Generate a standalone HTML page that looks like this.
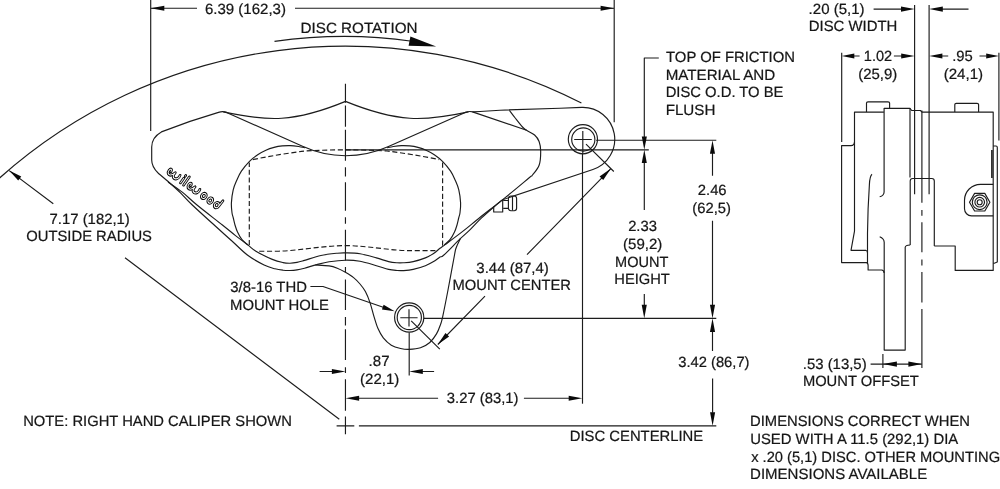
<!DOCTYPE html>
<html><head><meta charset="utf-8"><title>Caliper drawing</title>
<style>
html,body{margin:0;padding:0;background:#fff;}
body{width:1000px;height:489px;overflow:hidden;}
svg{display:block;filter:grayscale(1);}
text{font-family:"Liberation Sans",sans-serif;font-size:14.8px;fill:#161616;stroke:#161616;stroke-width:0.22;text-rendering:geometricPrecision;}
.ln{fill:none;stroke:#1c1c1c;stroke-width:1.15;stroke-linecap:butt;stroke-linejoin:round;}
.dash{fill:none;stroke:#1c1c1c;stroke-width:1.15;stroke-dasharray:5.1 2.7;}
.cl{fill:none;stroke:#1c1c1c;stroke-width:1.15;}
.ar polygon{fill:#0a0a0a;stroke:none;}
</style></head><body>
<svg width="1000" height="489" viewBox="0 0 1000 489">
<rect width="1000" height="489" fill="#fff"/>

<!-- dimension / extension lines -->
<g class="ln">
<path d="M150.7,0V131 M614.2,0V122.3 M150.7,8.25H197 M295,8.25H614.2"/>
<path d="M274.5,41.4 Q345,31.3 412,41.3"/>
<path d="M-2,179.4 A519.07,519.07 0 0 1 581.4,103"/>
<path d="M9.2,170.6L53.3,203.8 M125,257.8L339.3,419.3"/>
<path d="M658.8,58H644.3V137 M644.3,162.5V210 M644.3,294V305"/>
<path d="M596.1,140.2H716.3 M345.5,149.9H648.8 M423.8,318.3H716.3"/>
<path d="M582.5,154V403.7"/>
<path d="M712.5,153V175.8 M712.5,220.8V305 M712.5,331.5V351 M712.6,378.4V412.7"/>
<path d="M409.2,332.5V375.6"/>
<path d="M319.6,371.5H332 M422,371.5H434.1"/>
<path d="M358,398.2H438.1 M523.9,398.2H569"/>
<path d="M358.9,425.8H716.3 M336.6,425.8H354.3 M345.45,416.6V434.3"/>
<path d="M586,144.1L613.8,171.5 M411.2,320.8L439.8,349.2 M610.9,168.6L527,254.7 M485,296.2L437.8,344.5"/>
<path d="M310.4,286.5H323L389,309.3"/>
<path d="M914.6,5V112 M929.1,5V112 M873.6,9.1H902 M942,9.1H968.5"/>
<path d="M841.7,52.8V142.1 M998.9,52.8V140.5 M853.5,56H859.6 M893.9,56H902 M942,56H948.2 M979.5,56H986.5"/>
<path d="M882.9,354V368 M870.6,364.1H921.8"/>
</g>

<!-- centerlines -->
<g class="cl">
<path d="M345.45,83.8V102.8 M345.45,105.4V126.8 M345.45,129.8V160.7 M345.45,167.2V176.4 M345.45,182.3V210.7 M345.45,217.3V223.8 M345.45,229.7V260.4 M345.45,267V272.3 M345.45,279.5V309.9 M345.45,317V325.6 M345.45,329.3V360 M345.45,367.2V373.1 M345.45,379.3V410.7"/>
<path d="M921.9,110.5V202.7 M921.9,209.9V215.8 M921.9,222.3V252.3 M921.9,259.5V265.4 M921.9,271.9V302.6 M921.9,309.1V368"/>
</g>

<!-- front view: caliper -->
<g class="ln">
<path d="M158.1,173 C154,169 151.7,165 151.7,160 V147 C151.7,141 155,135.5 161.4,131.9 L190,121.4 L218.5,112.4 Q222.7,111 226.5,112.4"/>
<path d="M223.3,111.9 C267.6,121.5 294.1,122.7 345.5,101.4 C397.7,122.7 424.2,121.5 468.5,111.9"/>
<path d="M226,112.2 L302.5,146.3 C318,153.4 332,155.7 345.5,155.7 C359,155.7 373,153.4 388.5,146.5 L465.8,112.2"/>
<path d="M465.5,112.3 Q469.1,110.9 473.2,111.9 L480,111.5 L500,110.2 L560,108.2 L581.8,107.35 A31.9,31.9 0 0 1 592.9,169.5 L502.7,199.7"/>
<path d="M472.5,111.9 L526.6,130.3"/>
<path d="M168.00,182.00 C170.43,183.73 177.77,188.57 182.60,192.40 C187.43,196.23 190.37,199.57 197.00,205.00 C203.63,210.43 215.98,219.90 222.40,225.00 C228.82,230.10 231.28,232.30 235.50,235.60 C239.72,238.90 244.30,242.20 247.70,244.80 C251.10,247.40 251.80,248.77 255.90,251.20 C260.00,253.63 267.78,257.50 272.30,259.40 C276.82,261.30 280.05,261.97 283.00,262.60 C285.95,263.23 287.67,263.23 290.00,263.20 C292.33,263.17 294.58,262.87 297.00,262.40 C299.42,261.93 300.52,261.55 304.50,260.40 C308.48,259.25 315.43,256.70 320.90,255.50 C326.37,254.30 333.22,253.63 337.30,253.20 C341.38,252.77 341.62,252.80 345.40,252.90 C349.18,253.00 354.83,252.97 360.00,253.80 C365.17,254.63 371.63,256.60 376.40,257.90 C381.17,259.20 385.17,260.78 388.60,261.60 C392.03,262.42 394.60,262.60 397.00,262.80 C399.40,263.00 400.30,263.00 403.00,262.80 C405.70,262.60 409.47,262.42 413.20,261.60 C416.93,260.78 422.00,259.27 425.40,257.90 C428.80,256.53 431.17,255.00 433.60,253.40 C436.03,251.80 438.02,249.80 440.00,248.30 C441.98,246.80 441.72,247.22 445.50,244.40 C449.28,241.58 457.12,235.77 462.70,231.40 C468.28,227.03 471.92,223.83 479.00,218.20 C486.08,212.57 496.88,204.30 505.20,197.60 C513.52,190.90 524.35,181.77 528.90,178.00 C533.45,174.23 530.80,177.12 532.50,175.00 C534.20,172.88 537.73,169.23 539.10,165.30 C540.47,161.37 540.70,155.37 540.70,151.40 C540.70,147.43 540.12,144.23 539.10,141.50 C538.08,138.77 536.68,136.87 534.60,135.00 C532.52,133.13 528.62,131.63 526.60,130.30 C524.58,128.97 524.40,129.05 522.50,127.00 C520.60,124.95 517.38,120.77 515.20,118.00 C513.02,115.23 510.37,111.67 509.40,110.40"/>
<path d="M158.10,173.00 C160.00,174.63 165.68,179.40 169.50,182.80 C173.32,186.20 177.20,189.70 181.00,193.40 C184.80,197.10 186.63,199.60 192.30,205.00 C197.97,210.40 208.48,219.88 215.00,225.80 C221.52,231.72 225.95,235.58 231.40,240.50 C236.85,245.42 242.25,251.22 247.70,255.30 C253.15,259.38 259.55,262.75 264.10,265.00 C268.65,267.25 271.85,267.93 275.00,268.80 C278.15,269.67 280.50,269.92 283.00,270.20 C285.50,270.48 287.67,270.55 290.00,270.50 C292.33,270.45 294.58,270.28 297.00,269.90 C299.42,269.52 301.20,269.08 304.50,268.20 C307.80,267.32 312.70,265.67 316.80,264.60 C320.90,263.53 324.33,262.53 329.10,261.80 C333.87,261.07 340.25,260.28 345.40,260.20 C350.55,260.12 354.83,260.38 360.00,261.30 C365.17,262.22 371.63,264.35 376.40,265.70 C381.17,267.05 385.17,268.60 388.60,269.40 C392.03,270.20 394.60,270.30 397.00,270.50 C399.40,270.70 400.30,270.78 403.00,270.60 C405.70,270.42 409.47,270.22 413.20,269.40 C416.93,268.58 422.00,267.00 425.40,265.70 C428.80,264.40 431.17,263.03 433.60,261.60 C436.03,260.17 438.28,258.20 440.00,257.10 C441.72,256.00 440.52,258.07 443.90,255.00 C447.28,251.93 455.80,243.05 460.30,238.70 C464.80,234.35 467.40,232.32 470.90,228.90 C474.40,225.48 477.28,222.02 481.30,218.20 C485.32,214.38 491.43,209.08 495.00,206.00 C498.57,202.92 501.42,200.75 502.70,199.70"/>
<path d="M247.70,245.00 C246.75,244.12 243.70,241.87 242.00,239.70 C240.30,237.53 238.67,234.45 237.50,232.00 C236.33,229.55 235.70,227.33 235.00,225.00 C234.30,222.67 233.80,220.05 233.30,218.00 C232.80,215.95 232.32,215.22 232.00,212.70 C231.68,210.18 231.20,206.72 231.40,202.90 C231.60,199.08 232.28,193.62 233.20,189.80 C234.12,185.98 235.53,183.12 236.90,180.00 C238.27,176.88 239.30,174.22 241.40,171.10 C243.50,167.98 246.78,164.03 249.50,161.30 C252.22,158.57 254.97,156.55 257.70,154.70 C260.43,152.85 263.17,151.42 265.90,150.20 C268.63,148.98 271.37,148.12 274.10,147.40 C276.83,146.68 279.58,146.20 282.30,145.90 C285.02,145.60 287.68,145.50 290.40,145.60 C293.12,145.70 296.17,146.13 298.60,146.50 C301.03,146.87 303.93,147.58 305.00,147.80"/>
<path d="M444.30,245.00 C445.25,244.12 448.30,241.87 450.00,239.70 C451.70,237.53 453.33,234.45 454.50,232.00 C455.67,229.55 456.30,227.33 457.00,225.00 C457.70,222.67 458.20,220.05 458.70,218.00 C459.20,215.95 459.68,215.22 460.00,212.70 C460.32,210.18 460.80,206.72 460.60,202.90 C460.40,199.08 459.72,193.62 458.80,189.80 C457.88,185.98 456.47,183.12 455.10,180.00 C453.73,176.88 452.70,174.22 450.60,171.10 C448.50,167.98 445.22,164.03 442.50,161.30 C439.78,158.57 437.03,156.55 434.30,154.70 C431.57,152.85 428.83,151.42 426.10,150.20 C423.37,148.98 420.63,148.12 417.90,147.40 C415.17,146.68 412.42,146.20 409.70,145.90 C406.98,145.60 404.32,145.50 401.60,145.60 C398.88,145.70 395.83,146.13 393.40,146.50 C390.97,146.87 388.07,147.58 387.00,147.80"/>
<path d="M315.20,265.00 C317.52,265.15 325.42,265.37 329.10,265.90 C332.78,266.43 334.58,267.13 337.30,268.20 C340.02,269.27 342.68,270.73 345.40,272.30 C348.12,273.87 351.17,275.65 353.60,277.60 C356.03,279.55 358.03,281.68 360.00,284.00 C361.97,286.32 363.73,288.40 365.40,291.50 C367.07,294.60 368.57,298.42 370.00,302.60 C371.43,306.78 372.67,312.27 374.00,316.60 C375.33,320.93 376.45,325.05 378.00,328.60 C379.55,332.15 381.08,335.13 383.30,337.90 C385.52,340.67 388.42,343.43 391.30,345.20 C394.18,346.97 397.62,347.80 400.60,348.50 C403.58,349.20 405.88,349.52 409.20,349.40 C412.52,349.28 417.07,348.95 420.50,347.80 C423.93,346.65 427.13,344.82 429.80,342.50 C432.47,340.18 434.72,336.88 436.50,333.90 C438.28,330.92 439.47,327.48 440.50,324.60 C441.53,321.72 441.45,322.37 442.70,316.60 C443.95,310.83 446.03,300.27 448.00,290.00 C449.97,279.73 453.13,262.05 454.50,255.00 C455.87,247.95 455.23,250.42 456.20,247.70 C457.17,244.98 459.62,240.20 460.30,238.70"/>
<circle cx="582.9" cy="139.2" r="14.6"/><circle cx="583.3" cy="139.5" r="11.6"/>
<path d="M574.2,139.5H591.8 M582.8,131V154"/>
<circle cx="409.2" cy="317.5" r="14.6"/><circle cx="409.3" cy="317.5" r="12.1"/>
<path d="M400.3,317.7H417.6 M409,309.3V326.6"/>
<!-- bleeder -->
<path d="M493.7,206.5V212H502.7V200"/>
<path d="M503.2,200.5H508.4 M503.2,208.3H508.4"/>
<rect x="508.4" y="196" width="8.2" height="14.7" rx="2.4"/>
<path d="M512.5,196.2V210.5"/>
</g>
<g class="dash">
<path d="M249.3,245V162.5"/>
<path d="M442.6,245.7V162.5"/>
<path d="M252.8,159.6 Q280,154 305,151 Q325,149.9 345.5,149.8 Q366,149.9 387,151 Q412,154 439.2,159.6"/>
<path d="M259.2,251.2 H278.8 C300,250.5 322,245.8 345.4,245.6 C369,245.8 390,250.6 409,250.6 H437"/>
</g>

<g transform="translate(166.4,171.8) rotate(35.4) translate(0,0.7) scale(1,1.22) translate(0,-0.7)" fill="none" stroke-linecap="round" stroke-linejoin="round">
<path d="M3.50,-2.3 C3.40,-4.3 1.40,-4.3 1.30,-2 C1.20,0.3 3.40,1.2 5.20,0.4 C6.60,-0.3 7.40,-2 7.80,-3.3 C7.30,-1 8.20,0.9 10.20,0.8 C12.60,0.7 14.20,-1.6 13.20,-3.9 M17.9,0.7 L17.9,-3.8 M17.9,-6 L17.9,-6.4 M21.7,0.7 L21.7,-7.2 M27.80,-2.3 C27.70,-4.3 25.70,-4.3 25.60,-2 C25.50,0.3 27.70,1.2 29.50,0.4 C30.90,-0.3 31.70,-2 32.10,-3.3 C31.60,-1 32.50,0.9 34.50,0.8 C36.90,0.7 38.50,-1.6 37.50,-3.9 M42.30,-1.5 a2.2,2.2 0 1,0 4.4,0 a2.2,2.2 0 1,0 -4.4,0 M50.20,-1.5 a2.2,2.2 0 1,0 4.4,0 a2.2,2.2 0 1,0 -4.4,0 M58.10,-1.5 a2.2,2.2 0 1,0 4.4,0 a2.2,2.2 0 1,0 -4.4,0 M62.6,-1.5 L62.9,-7.2" stroke="#0a0a0a" stroke-width="2.7"/>
<path d="M3.50,-2.3 C3.40,-4.3 1.40,-4.3 1.30,-2 C1.20,0.3 3.40,1.2 5.20,0.4 C6.60,-0.3 7.40,-2 7.80,-3.3 C7.30,-1 8.20,0.9 10.20,0.8 C12.60,0.7 14.20,-1.6 13.20,-3.9 M17.9,0.7 L17.9,-3.8 M17.9,-6 L17.9,-6.4 M21.7,0.7 L21.7,-7.2 M27.80,-2.3 C27.70,-4.3 25.70,-4.3 25.60,-2 C25.50,0.3 27.70,1.2 29.50,0.4 C30.90,-0.3 31.70,-2 32.10,-3.3 C31.60,-1 32.50,0.9 34.50,0.8 C36.90,0.7 38.50,-1.6 37.50,-3.9 M42.30,-1.5 a2.2,2.2 0 1,0 4.4,0 a2.2,2.2 0 1,0 -4.4,0 M50.20,-1.5 a2.2,2.2 0 1,0 4.4,0 a2.2,2.2 0 1,0 -4.4,0 M58.10,-1.5 a2.2,2.2 0 1,0 4.4,0 a2.2,2.2 0 1,0 -4.4,0 M62.6,-1.5 L62.9,-7.2" stroke="#fff" stroke-width="0.9"/>
</g>

<!-- side view -->
<g class="ln">
<path d="M854.5,142 Q854.3,145.6 851,145.6 H841.6 V262.6 H866.4 Q868,262.8 868.1,265.5 V270 H881.6 Q884,270.2 884.1,272.9"/>
<path d="M883.9,112.1 H854.5 V231.2 L851,250.3 H865.7 Q867.3,250.5 867.5,252.8"/>
<path d="M872,174.2 Q869.8,176 869.4,184.5 L868.1,209 L867.5,233.6 V263"/>
<path d="M866.5,112.1 V103 Q866.5,101.8 868,101.8 H888 Q889.6,101.8 889.6,103 V108.3"/>
<path d="M879.7,196.8 Q884,195.5 884.1,191.9 V108.3 H910 V177.4"/>
<path d="M879.7,236.8 Q884,238.5 884.2,242.2 V350.1 H905.2 V247.3 Q905.4,245.3 910.2,245"/>
<path d="M910,108.3 L911.7,110.5 H920.4 L922.1,112.1 H993.2 V270.4 H955.2 V246 H934.3"/>
<path d="M954.8,112.1 V104.6 Q954.8,103.4 956.3,103.4 H977 Q978.6,103.4 978.6,104.6 V112.1"/>
<path d="M910.2,245 V181 Q910.2,178.5 912.7,178.5 H931.8 Q934.3,178.5 934.3,181 V246"/>
<path d="M914.6,112V194.2 M929.1,112V194.2"/>
<path d="M993.2,146 H996 Q997.3,146 997.3,147.5 V262 L994.3,263.2 H993.2"/>
<path d="M991.9,150V178" stroke-width="1.6"/>
<path d="M993.2,184.3 H980.5 A16,16 0 0 0 964.5,200.3 V208.8 A7,7 0 0 0 971.5,215.8 H993.2"/>
<polygon points="989.9,202.2 984.8,211.0 974.6,211.0 969.5,202.2 974.6,193.4 984.8,193.4"/>
<circle cx="979.7" cy="202.2" r="7.4"/><circle cx="979.7" cy="202.2" r="4.8"/><circle cx="979.7" cy="202.2" r="2.5"/>
</g>

<g class="ar">
<polygon points="150.70,8.25 164.30,5.70 164.30,10.80"/>
<polygon points="614.20,8.25 600.60,10.80 600.60,5.70"/>
<polygon points="914.60,9.10 901.00,11.65 901.00,6.55"/>
<polygon points="929.20,9.10 942.80,6.55 942.80,11.65"/>
<polygon points="841.70,56.00 854.30,53.45 854.30,58.55"/>
<polygon points="914.60,56.00 901.20,58.55 901.20,53.45"/>
<polygon points="929.20,56.00 942.40,53.45 942.40,58.55"/>
<polygon points="998.80,56.00 986.20,58.55 986.20,53.45"/>
<polygon points="9.20,170.60 21.27,176.51 18.20,180.58"/>
<polygon points="644.30,149.80 641.75,136.50 646.85,136.50"/>
<polygon points="644.30,149.80 646.85,163.10 641.75,163.10"/>
<polygon points="712.50,140.20 715.05,153.80 709.95,153.80"/>
<polygon points="712.50,318.30 709.95,304.70 715.05,304.70"/>
<polygon points="712.50,318.30 715.05,331.90 709.95,331.90"/>
<polygon points="712.60,425.80 710.05,412.20 715.15,412.20"/>
<polygon points="644.25,318.30 641.70,304.70 646.80,304.70"/>
<polygon points="345.50,371.50 331.90,374.05 331.90,368.95"/>
<polygon points="409.20,371.50 422.80,368.95 422.80,374.05"/>
<polygon points="345.50,398.20 359.10,395.65 359.10,400.75"/>
<polygon points="582.30,398.20 568.70,400.75 568.70,395.65"/>
<polygon points="882.90,364.10 896.90,361.55 896.90,366.65"/>
<polygon points="921.80,364.10 908.40,366.65 908.40,361.55"/>
<polygon points="610.90,168.60 603.24,180.12 599.58,176.56"/>
<polygon points="437.80,344.50 445.46,332.98 449.12,336.54"/>
<polygon points="394.60,311.20 381.95,309.53 383.61,304.71"/>
<polygon points="436.2,46.5 410.4,36.4 408.6,45.7"/>
</g>
<g style="opacity:0.999">
<text x="204.99" y="13.75" textLength="80.94" lengthAdjust="spacingAndGlyphs">6.39 (162,3)</text>
<text x="300.53" y="33.25" textLength="116.94" lengthAdjust="spacingAndGlyphs">DISC ROTATION</text>
<text x="666.07" y="62.30" textLength="128.94" lengthAdjust="spacingAndGlyphs">TOP OF FRICTION</text>
<text x="665.68" y="79.80" textLength="109.52" lengthAdjust="spacingAndGlyphs">MATERIAL AND</text>
<text x="665.69" y="97.40" textLength="117.74" lengthAdjust="spacingAndGlyphs">DISC O.D. TO BE</text>
<text x="665.66" y="114.70" textLength="49.68" lengthAdjust="spacingAndGlyphs">FLUSH</text>
<text x="808.63" y="13.50" textLength="55.90" lengthAdjust="spacingAndGlyphs">.20 (5,1)</text>
<text x="808.78" y="30.90" textLength="88.54" lengthAdjust="spacingAndGlyphs">DISC WIDTH</text>
<text x="863.79" y="61.40" textLength="28.34" lengthAdjust="spacingAndGlyphs">1.02</text>
<text x="858.17" y="79.10" textLength="39.05" lengthAdjust="spacingAndGlyphs">(25,9)</text>
<text x="952.25" y="61.40" textLength="20.57" lengthAdjust="spacingAndGlyphs">.95</text>
<text x="943.66" y="79.10" textLength="39.47" lengthAdjust="spacingAndGlyphs">(24,1)</text>
<text x="49.54" y="224.00" textLength="80.29" lengthAdjust="spacingAndGlyphs">7.17 (182,1)</text>
<text x="26.30" y="241.00" textLength="125.68" lengthAdjust="spacingAndGlyphs">OUTSIDE RADIUS</text>
<text x="230.34" y="291.70" textLength="76.57" lengthAdjust="spacingAndGlyphs">3/8-16 THD</text>
<text x="230.08" y="309.50" textLength="98.85" lengthAdjust="spacingAndGlyphs">MOUNT HOLE</text>
<text x="476.33" y="273.20" textLength="72.50" lengthAdjust="spacingAndGlyphs">3.44 (87,4)</text>
<text x="452.49" y="290.20" textLength="118.49" lengthAdjust="spacingAndGlyphs">MOUNT CENTER</text>
<text x="697.80" y="195.30" textLength="28.81" lengthAdjust="spacingAndGlyphs">2.46</text>
<text x="692.33" y="213.25" textLength="38.58" lengthAdjust="spacingAndGlyphs">(62,5)</text>
<text x="628.15" y="230.90" textLength="28.81" lengthAdjust="spacingAndGlyphs">2.33</text>
<text x="623.07" y="248.90" textLength="39.26" lengthAdjust="spacingAndGlyphs">(59,2)</text>
<text x="615.06" y="267.00" textLength="53.28" lengthAdjust="spacingAndGlyphs">MOUNT</text>
<text x="614.29" y="284.00" textLength="55.54" lengthAdjust="spacingAndGlyphs">HEIGHT</text>
<text x="678.24" y="366.90" textLength="71.28" lengthAdjust="spacingAndGlyphs">3.42 (86,7)</text>
<text x="368.63" y="365.50" textLength="20.88" lengthAdjust="spacingAndGlyphs">.87</text>
<text x="360.07" y="383.60" textLength="39.26" lengthAdjust="spacingAndGlyphs">(22,1)</text>
<text x="446.84" y="403.00" textLength="71.68" lengthAdjust="spacingAndGlyphs">3.27 (83,1)</text>
<text x="569.78" y="441.20" textLength="133.45" lengthAdjust="spacingAndGlyphs">DISC CENTERLINE</text>
<text x="23.19" y="425.90" textLength="268.71" lengthAdjust="spacingAndGlyphs">NOTE: RIGHT HAND CALIPER SHOWN</text>
<text x="802.74" y="368.80" textLength="63.89" lengthAdjust="spacingAndGlyphs">.53 (13,5)</text>
<text x="802.89" y="385.90" textLength="115.94" lengthAdjust="spacingAndGlyphs">MOUNT OFFSET</text>
<text x="750.09" y="426.40" textLength="219.92" lengthAdjust="spacingAndGlyphs">DIMENSIONS CORRECT WHEN</text>
<text x="750.17" y="444.00" textLength="208.06" lengthAdjust="spacingAndGlyphs">USED WITH A 11.5 (292,1) DIA</text>
<text x="751.14" y="461.60" textLength="248.96" lengthAdjust="spacingAndGlyphs">x .20 (5,1) DISC. OTHER MOUNTING</text>
<text x="750.09" y="479.20" textLength="177.14" lengthAdjust="spacingAndGlyphs">DIMENSIONS AVAILABLE</text>
</g>
</svg>
</body></html>
